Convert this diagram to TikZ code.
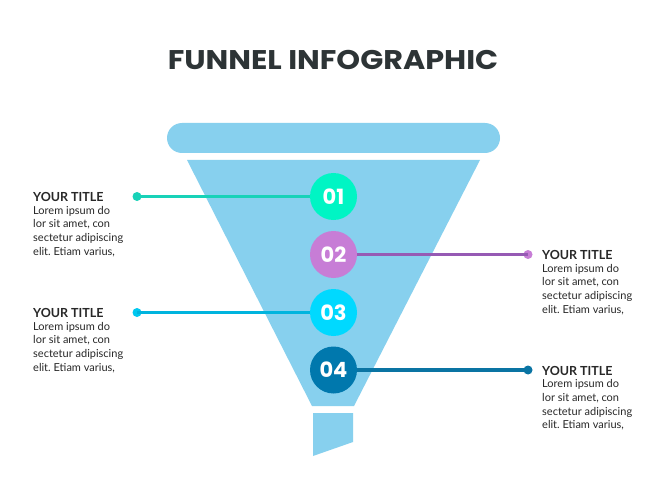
\documentclass[tikz,border=0pt]{standalone}
\usepackage{fontspec}
\setmainfont{Lato}
\newfontfamily\popp{Poppins}
\frenchspacing
\definecolor{funnel}{RGB}{135,208,238}
\definecolor{titlec}{RGB}{45,52,54}
\definecolor{txt}{RGB}{40,40,40}
\definecolor{cA}{RGB}{0,245,196}
\definecolor{lA}{RGB}{24,210,184}
\definecolor{cB}{RGB}{199,125,214}
\definecolor{lB}{RGB}{150,90,180}
\definecolor{cC}{RGB}{0,217,255}
\definecolor{lC}{RGB}{0,180,222}
\definecolor{dC}{RGB}{0,200,240}
\definecolor{cD}{RGB}{0,120,173}
\definecolor{lD}{RGB}{10,116,163}
\begin{document}
\begin{tikzpicture}[x=1pt,y=-1pt,
  numc/.style={circle,minimum size=47pt,inner sep=0pt,text=white,font=\popp\bfseries\fontsize{21}{21}\selectfont},
  conn/.style={line width=3.5pt},
  dotn/.style={circle,minimum size=9pt,inner sep=0pt},
  ttl/.style={anchor=base west,inner sep=0pt,text=txt,font=\bfseries\fontsize{12.5}{12.5}\selectfont},
  body/.style={anchor=north west,inner sep=0pt,text=txt,align=left,font=\fontsize{11}{13.6}\selectfont}]
\useasboundingbox (0,0) rectangle (667,500);
\fill[white] (0,0) rectangle (667,500);
\node[anchor=base,inner sep=0pt,text=titlec,font=\popp\bfseries\fontsize{27}{27}\selectfont] (title) at (333,69.5) {\scalebox{1.12}[1]{FUNNEL INFOGRAPHIC}};
% funnel
\fill[funnel,rounded corners=15pt] (167,123) rectangle (500,153);
\fill[funnel] (187,160) -- (480,160) -- (354,406) -- (312,406) -- cycle;
\fill[funnel] (313,413) -- (353,413) -- (353,442) -- (313,456) -- cycle;
% circles
\node[numc,fill=cA] (n1) at (333.5,196.5) {01};
\node[numc,fill=cB] (n2) at (333.5,254.5) {02};
\node[numc,fill=cC] (n3) at (333.5,312.5) {03};
\node[numc,fill=cD] (n4) at (333.5,370) {04};
% dots
\node[dotn,fill=lA] (d1) at (137,196.5) {};
\node[dotn,fill=cB] (d2) at (528,254.5) {};
\node[dotn,fill=dC] (d3) at (137,312.5) {};
\node[dotn,fill=lD] (d4) at (528,370) {};
\draw[conn,lA] (d1.center) -- (n1.west);
\draw[conn,lB] (n2.east) -- (d2.center);
\draw[conn,lC] (d3.center) -- (n3.west);
\draw[conn,lD] (n4.east) -- (d4.center);
% texts
\node[ttl] (t1) at (33,201.5) {YOUR TITLE};
\node[body] (b1) at (33,206) {Lorem ipsum do\\lor sit amet, con\\sectetur adipiscing\\elit. Etiam varius,};
\node[ttl] (t3) at (33,317.5) {YOUR TITLE};
\node[body] (b3) at (33,322) {Lorem ipsum do\\lor sit amet, con\\sectetur adipiscing\\elit. Etiam varius,};
\node[ttl] (t2) at (542,259.5) {YOUR TITLE};
\node[body] (b2) at (542,264) {Lorem ipsum do\\lor sit amet, con\\sectetur adipiscing\\elit. Etiam varius,};
\node[ttl] (t4) at (542,375) {YOUR TITLE};
\node[body] (b4) at (542,379.5) {Lorem ipsum do\\lor sit amet, con\\sectetur adipiscing\\elit. Etiam varius,};
\end{tikzpicture}
\end{document}
